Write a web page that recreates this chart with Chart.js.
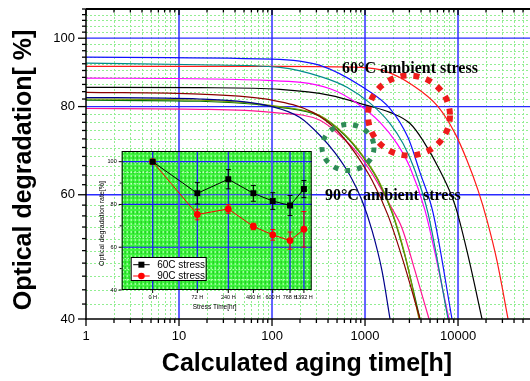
<!DOCTYPE html>
<html><head><meta charset="utf-8">
<script src="https://cdn.jsdelivr.net/npm/chart.js@4.4.0/dist/chart.umd.min.js"></script>
<style>
html,body{margin:0;padding:0;background:#fff;}
#wrap{position:relative;width:530px;height:381px;overflow:hidden;}
#main{position:absolute;left:0;top:0;width:530px;height:381px;}
#inset{position:absolute;width:235px;height:175px;}
</style></head><body>
<div id="wrap"><canvas id="main" width="530" height="381"></canvas><canvas id="inset" width="235" height="175"></canvas></div>
<script>
// ---------- main chart data: [calculated aging time (h), optical value (%)] ----------
const curveBlue    = [[1,94.0],[100,93.4],[328,91.5],[951,85.2],[1857,79.5],[2900,72.3],[3903,64.5],[5385,56.6],[8615,40]];
const curveTeal    = [[1,92.2],[16.8,91.7],[122,90.9],[353,88.0],[640,85.2],[1132,80.9],[1857,75.7],[2564,70.9],[3449,64.9],[4755,56.5],[7805,40]];
const curveRed     = [[1,91.2],[122,91.2],[884,90.9],[1641,89.8],[3281,85.7],[6095,80.0],[9284,73.3],[12500,67.1],[16400,60.9],[20500,55.2],[26200,48.4],[34500,40]];
const curveMagenta = [[1,87.8],[100,87.1],[421,84.8],[820,80.9],[1450,76.0],[2208,70.9],[3047,65.6],[4417,57.0],[8000,40]];
const curveBlack   = [[1,85.2],[16.8,85.1],[122,84.6],[421,83.0],[1051,80.3],[1857,78.5],[3047,75.7],[4204,71.6],[6404,64.9],[9284,58.0],[12820,49.2],[18120,40]];
const curveBrown   = [[1,83.8],[16.8,83.3],[100,81.7],[275,78.5],[500,74.0],[780,68.8],[1189,62.9],[1767,56.1],[2564,48.4],[3903,40]];
const curveNavy    = [[1,82.4],[16.8,82.0],[100,80.0],[200,77.2],[328,72.8],[476,68.8],[690,63.9],[928,58.9],[1189,53.4],[1523,46.8],[1857,40]];
const curveOlive   = [[1,82.0],[16.8,81.7],[122,80.0],[328,77.7],[609,73.0],[928,68.4],[1380,63.1],[1951,56.8],[2692,49.3],[3808,40]];
const curveGreen   = [[1,81.7],[16.8,81.4],[122,79.8],[328,77.5],[609,72.8],[928,68.2],[1380,62.9],[1951,56.6],[2692,49.1],[3903,40]];
const curvePink    = [[1,79.5],[16.8,79.3],[100,78.5],[328,76.5],[539,72.8],[841,68.6],[1281,63.3],[1857,58.0],[2500,53.8],[3449,46.8],[4875,40]];

const xTickValues = [1,10,100,1000,10000];
const xTickLabels = ["1","10","100","1000","10000"];
const yTickValues = [40,60,80,100];
const yTickLabels = ["40","60","80","100"];
const xTitle = "Calculated aging time[h]";
const yTitle = "Optical degradation[ %]";
const note60 = "60°C ambient stress";
const note90 = "90°C ambient stress";

// ---------- inset data ----------
const insetLabels = ["0 H","72 H","240 H","480 H","600 H","768 H","1392 H"];
const insetPos    = [16.3,39.8,56.1,69.3,79.5,88.6,95.9];
const stress60    = [100,85.2,91.8,85.2,81.6,79.5,87.2];
const err60       = [0,5,4.5,3.7,3.9,4.7,4];
const stress90    = [100,75.3,77.9,69.7,65.8,63.1,68.4];
const err90       = [0,2.5,2,1.5,2.5,4,8.3];
const insetYTicks = [40,60,80,100];
const insetYMinor = [50,70,90];
const insetXTitle = "Stress Time[hr]";
const insetYTitle = "Optical degradation rate[%]";

// ---------- layout / styles ----------
const INSET_LEFT = 90, INSET_TOP = 140;
const curveStyles = [
  [curveBlue,'#1010ff'],[curveTeal,'#008b8b'],[curveRed,'#ff1a1a'],[curveMagenta,'#ff00ff'],
  [curveBlack,'#000000'],[curveBrown,'#8b0000'],[curveNavy,'#00008b'],[curveOlive,'#7a9a00'],
  [curveGreen,'#007000'],[curvePink,'#ff1493']
];
const ell60 = {t:2970, v:77.7, rx:41, ry:40, color:'#ee1c1c', w:6, dash:[6,7]};
const ell90 = {t:656, v:70.0, rx:26, ry:23, color:'#2e8b57', w:5, dash:[5,7]};
const note60Pos = {t:566, v:89.2};
const note90Pos = {t:371, v:58.9};

const SANS = '"Liberation Sans", Arial, sans-serif';
const SERIF = '"Liberation Serif", "Times New Roman", serif';

function seg(ctx,x1,y1,x2,y2){ctx.beginPath();ctx.moveTo(x1,y1);ctx.lineTo(x2,y2);ctx.stroke();}

const xMinor = [];
for (let k=0;k<5;k++) for (let m=2;m<=9;m++){ const v=m*Math.pow(10,k); if (v<59400) xMinor.push(v); }
const yMinor = [];
for (let v=42; v<=110; v+=2){ if (v!==60 && v!==80 && v!==100) yMinor.push(v); }

const mainPlugin = {
  id:'mainDeco',
  beforeDatasetsDraw(chart){
    const {ctx, chartArea:a, scales:{x,y}} = chart;
    ctx.save();
    ctx.lineWidth = 1; ctx.strokeStyle = '#92ee92'; ctx.setLineDash([2,2]);
    xMinor.forEach(v=>{ const px=Math.round(x.getPixelForValue(v))+0.5; seg(ctx,px,a.top,px,a.bottom); });
    yMinor.forEach(v=>{ const py=Math.round(y.getPixelForValue(v))+0.5; seg(ctx,a.left,py,a.right,py); });
    ctx.setLineDash([]);
    ctx.strokeStyle = 'rgba(70,70,255,0.85)'; ctx.lineWidth = 2;
    xTickValues.slice(1).forEach(v=>{ const px=x.getPixelForValue(v); seg(ctx,px,a.top,px,a.bottom); });
    ctx.strokeStyle = '#2a2aff'; ctx.lineWidth = 1.3;
    [60,80,100].forEach(v=>{ const py=y.getPixelForValue(v); seg(ctx,a.left,py,a.right,py); });
    ctx.restore();
  },
  afterDatasetsDraw(chart){
    const {ctx, chartArea:a, scales:{x,y}} = chart;
    ctx.save();
    [ell60, ell90].forEach(e=>{
      ctx.strokeStyle=e.color; ctx.lineWidth=e.w; ctx.setLineDash(e.dash); ctx.lineCap='butt';
      ctx.beginPath(); ctx.ellipse(x.getPixelForValue(e.t), y.getPixelForValue(e.v), e.rx, e.ry, 0, 0, Math.PI*2); ctx.stroke();
    });
    ctx.setLineDash([]);
    ctx.fillStyle='#000'; ctx.font='bold 16px '+SERIF; ctx.textAlign='left'; ctx.textBaseline='alphabetic';
    ctx.fillText(note60, x.getPixelForValue(note60Pos.t), y.getPixelForValue(note60Pos.v));
    ctx.fillText(note90, x.getPixelForValue(note90Pos.t), y.getPixelForValue(note90Pos.v));
    ctx.strokeStyle='#000'; ctx.lineWidth=1.5;
    seg(ctx,a.left,a.top,a.left,a.bottom+0.75);
    seg(ctx,a.left-0.75,a.bottom,a.right,a.bottom);
    ctx.lineWidth=2; seg(ctx,a.left,a.top,a.right,a.top);
    ctx.lineWidth=1.3;
    yTickValues.forEach(v=>{ const py=y.getPixelForValue(v); seg(ctx,a.left-8,py,a.left,py); });
    yMinor.forEach(v=>{ const py=y.getPixelForValue(v); seg(ctx,a.left-4,py,a.left,py); });
    xTickValues.forEach(v=>{ const px=x.getPixelForValue(v); seg(ctx,px,a.bottom,px,a.bottom+7); seg(ctx,px,a.top,px,a.top+6); });
    xMinor.forEach(v=>{ const px=x.getPixelForValue(v); seg(ctx,px,a.bottom,px,a.bottom+4); seg(ctx,px,a.top,px,a.top+3.5); });
    ctx.font='13px '+SANS; ctx.fillStyle='#000';
    ctx.textAlign='right'; ctx.textBaseline='middle';
    yTickValues.forEach((v,i)=>{ ctx.fillText(yTickLabels[i], a.left-11, y.getPixelForValue(v)); });
    ctx.textAlign='center';
    xTickValues.forEach((v,i)=>{ ctx.fillText(xTickLabels[i], x.getPixelForValue(v), a.bottom+17); });
    ctx.font='bold 25px '+SANS; ctx.textBaseline='alphabetic'; ctx.textAlign='center';
    ctx.fillText(xTitle, 307, 371);
    ctx.save(); ctx.translate(31, 170); ctx.rotate(-Math.PI/2); ctx.fillText(yTitle, 0, 0); ctx.restore();
    ctx.restore();
  }
};

const mainChart = new Chart(document.getElementById('main'), {
  type:'line',
  data:{datasets: curveStyles.map(([d,c])=>({
    data: d.map(p=>({x:p[0], y:p[1]})), borderColor:c, borderWidth:1.2, pointRadius:0,
    fill:false, cubicInterpolationMode:'monotone'
  }))},
  options:{
    responsive:false, animation:false, events:[],
    layout:{padding:{left:86, right:0, top:9, bottom:62}},
    plugins:{legend:{display:false}, tooltip:{enabled:false}},
    scales:{
      x:{type:'logarithmic', min:1, max:59400, display:false},
      y:{type:'logarithmic', min:40, max:110, display:false}
    }
  },
  plugins:[mainPlugin]
});

const insetCanvas = document.getElementById('inset');
insetCanvas.style.left = INSET_LEFT+'px';
insetCanvas.style.top = INSET_TOP+'px';

const insetPlugin = {
  id:'insetDeco',
  beforeDatasetsDraw(chart){
    const {ctx, chartArea:a, scales:{x,y}} = chart;
    ctx.save();
    ctx.fillStyle='#3df53d'; ctx.fillRect(a.left,a.top,a.right-a.left,a.bottom-a.top);
    ctx.lineWidth=1;
    ctx.strokeStyle='#c0ffc0'; ctx.setLineDash([2,2]);
    for (let px=a.left+1.5; px<a.right; px+=4) seg(ctx,px,a.top,px,a.bottom);
    ctx.strokeStyle='#20c020'; ctx.setLineDash([3,2]);
    for (let px=a.left+3.5; px<a.right; px+=4) seg(ctx,px,a.top,px,a.bottom);
    ctx.strokeStyle='#d8ffd8'; ctx.setLineDash([1,2]);
    for (let v=45; v<105; v+=5){ const py=Math.round(y.getPixelForValue(v))+0.5; seg(ctx,a.left,py,a.right,py); }
    ctx.setLineDash([]);
    ctx.strokeStyle='#1a1aff'; ctx.lineWidth=1.2;
    [60,80,100].forEach(v=>{ const py=y.getPixelForValue(v); seg(ctx,a.left,py,a.right,py); });
    insetPos.forEach((p,i)=>{ if (i===3||i===4) return; const px=x.getPixelForValue(p); seg(ctx,px,a.top,px,a.bottom); });
    const ms = mainChart.scales;
    ctx.strokeStyle='rgba(70,70,255,0.85)'; ctx.lineWidth=2;
    [10,100].forEach(v=>{ const px=ms.x.getPixelForValue(v)-INSET_LEFT; seg(ctx,px,a.top,px,a.bottom); });
    ctx.strokeStyle='#2a2aff'; ctx.lineWidth=1.2;
    { const py=ms.y.getPixelForValue(60)-INSET_TOP; seg(ctx,a.left,py,a.right,py); }
    [[stress60,err60,'#000'],[stress90,err90,'#ff0000']].forEach(([vals,errs,c])=>{
      ctx.strokeStyle=c; ctx.lineWidth=1;
      vals.forEach((v,i)=>{
        if (!errs[i]) return;
        const px=x.getPixelForValue(insetPos[i]);
        const t=y.getPixelForValue(v+errs[i]), b=y.getPixelForValue(v-errs[i]);
        seg(ctx,px,t,px,b); seg(ctx,px-2.5,t,px+2.5,t); seg(ctx,px-2.5,b,px+2.5,b);
      });
    });
    ctx.restore();
  },
  afterDraw(chart){
    const {ctx, chartArea:a, scales:{x,y}} = chart;
    ctx.save();
    ctx.strokeStyle='#000'; ctx.lineWidth=1;
    ctx.strokeRect(a.left+0.5,a.top+0.5,a.right-a.left-1,a.bottom-a.top-1);
    insetYTicks.forEach(v=>{ const py=y.getPixelForValue(v); seg(ctx,a.left-3,py,a.left,py); });
    insetYMinor.forEach(v=>{ const py=y.getPixelForValue(v); seg(ctx,a.left-2,py,a.left,py); });
    insetPos.forEach(p=>{ const px=x.getPixelForValue(p); seg(ctx,px,a.bottom,px,a.bottom+3); });
    ctx.fillStyle='#000';
    ctx.font='5.5px '+SANS; ctx.textAlign='right'; ctx.textBaseline='middle';
    insetYTicks.forEach(v=>ctx.fillText(String(v), a.left-5, y.getPixelForValue(v)));
    ctx.textAlign='center';
    insetPos.forEach((p,i)=>ctx.fillText(insetLabels[i], x.getPixelForValue(p), a.bottom+7));
    ctx.font='6.5px '+SANS; ctx.textBaseline='alphabetic';
    ctx.fillText(insetXTitle, (a.left+a.right)/2 - 2, a.bottom+19);
    ctx.save(); ctx.translate(14, (a.top+a.bottom)/2 + 3); ctx.rotate(-Math.PI/2);
    ctx.font='7px '+SANS; ctx.fillText(insetYTitle, 0, 0); ctx.restore();
    const lx=a.left+9, ly=a.top+106, lw=75, lh=23;
    ctx.fillStyle='#fff'; ctx.fillRect(lx,ly,lw,lh);
    ctx.strokeStyle='#000'; ctx.lineWidth=1; ctx.strokeRect(lx+0.5,ly+0.5,lw,lh);
    const items=[[chart.data.datasets[0],ly+7.7],[chart.data.datasets[1],ly+19]];
    items.forEach(([ds,cy])=>{
      ctx.strokeStyle=ds.borderColor; ctx.lineWidth=1; seg(ctx,lx+2.5,cy,lx+19,cy);
      ctx.fillStyle=ds.backgroundColor;
      if (ds.pointStyle==='rect'){ ctx.fillRect(lx+10.7-3,cy-3,6,6); }
      else { ctx.beginPath(); ctx.arc(lx+10.7,cy,3.3,0,Math.PI*2); ctx.fill(); }
      ctx.fillStyle='#000'; ctx.font='10px '+SANS; ctx.textAlign='left'; ctx.textBaseline='middle';
      ctx.fillText(ds.label, lx+26.5, cy+0.5);
    });
    ctx.restore();
  }
};

const insetChart = new Chart(insetCanvas, {
  type:'line',
  data:{datasets:[
    {label:'60C stress', data: insetPos.map((p,i)=>({x:p, y:stress60[i]})), borderColor:'#000', backgroundColor:'#000',
     borderWidth:1, pointStyle:'rect', pointRadius:4.2, pointBorderWidth:0, tension:0},
    {label:'90C stress', data: insetPos.map((p,i)=>({x:p, y:stress90[i]})), borderColor:'#ff0000', backgroundColor:'#ff0000',
     borderWidth:1, pointStyle:'circle', pointRadius:3.4, pointBorderWidth:0, tension:0}
  ]},
  options:{
    responsive:false, animation:false, events:[],
    layout:{padding:{left:31.7, right:13.3, top:11, bottom:25}},
    plugins:{legend:{display:false}, tooltip:{enabled:false}},
    scales:{
      x:{type:'linear', min:0, max:100, display:false},
      y:{type:'linear', min:40, max:105, display:false}
    }
  },
  plugins:[insetPlugin]
});
</script></body></html>
